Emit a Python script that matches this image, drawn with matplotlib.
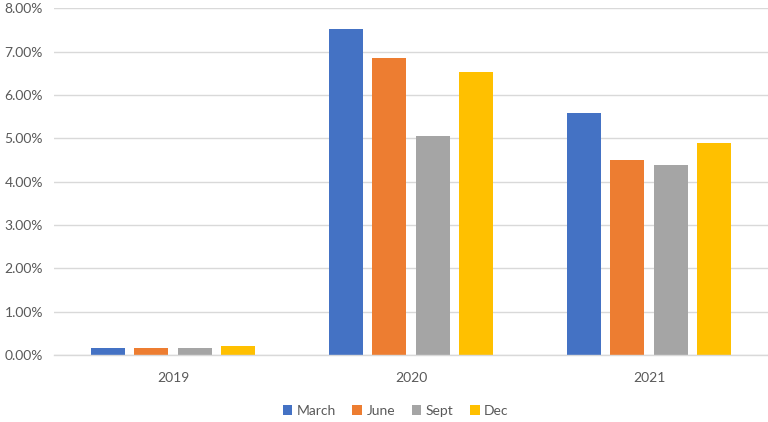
import matplotlib
matplotlib.use("Agg")
import matplotlib.pyplot as plt
import numpy as np
from matplotlib.ticker import FuncFormatter, MultipleLocator

years = ["2019", "2020", "2021"]
series_names = ["March", "June", "Sept", "Dec"]
march = [0.16, 7.52, 5.59]
june = [0.15, 6.85, 4.49]
sept = [0.15, 5.06, 4.39]
dec = [0.21, 6.52, 4.90]
colors = ["#4472C4", "#ED7D31", "#A5A5A5", "#FFC000"]

plt.rcParams['font.family'] = ['Lato', 'DejaVu Sans']

fig = plt.figure(figsize=(7.68, 4.22), dpi=100)
ax = fig.add_axes([0.0703, 0.1588, 0.9297, 0.8215])

x = np.arange(len(years))
pitch = 0.182
width = 0.143
all_series = [march, june, sept, dec]
for i, (name, vals, c) in enumerate(zip(series_names, all_series, colors)):
    ax.bar(x + (i - 1.5) * pitch, vals, width=width, color=c, label=name, zorder=3)

ax.set_xlim(-0.5, 2.5)
ax.set_ylim(0, 8)
ax.yaxis.set_major_locator(MultipleLocator(1))
ax.yaxis.set_major_formatter(FuncFormatter(lambda v, p: f"{v:.2f}%"))
ax.grid(axis='y', color='#D9D9D9', linewidth=1.0, zorder=0)
for s in ['top', 'right', 'left']:
    ax.spines[s].set_visible(False)
ax.spines['bottom'].set_color('#D9D9D9')
ax.spines['bottom'].set_linewidth(1.0)
ax.spines['bottom'].set_zorder(4)
ax.set_xticks(x)
ax.set_xticklabels(years)
ax.tick_params(axis='both', length=0, labelcolor='#595959', labelsize=10)
ax.tick_params(axis='x', pad=12)
ax.tick_params(axis='y', pad=8)

leg = fig.legend(loc='center', bbox_to_anchor=(0.515, 0.027), ncol=4, frameon=False,
                 fontsize=10, handlelength=0.7, handleheight=0.7, handletextpad=0.3,
                 columnspacing=1.2, labelcolor='#595959')

fig.savefig("out.png", dpi=100)
